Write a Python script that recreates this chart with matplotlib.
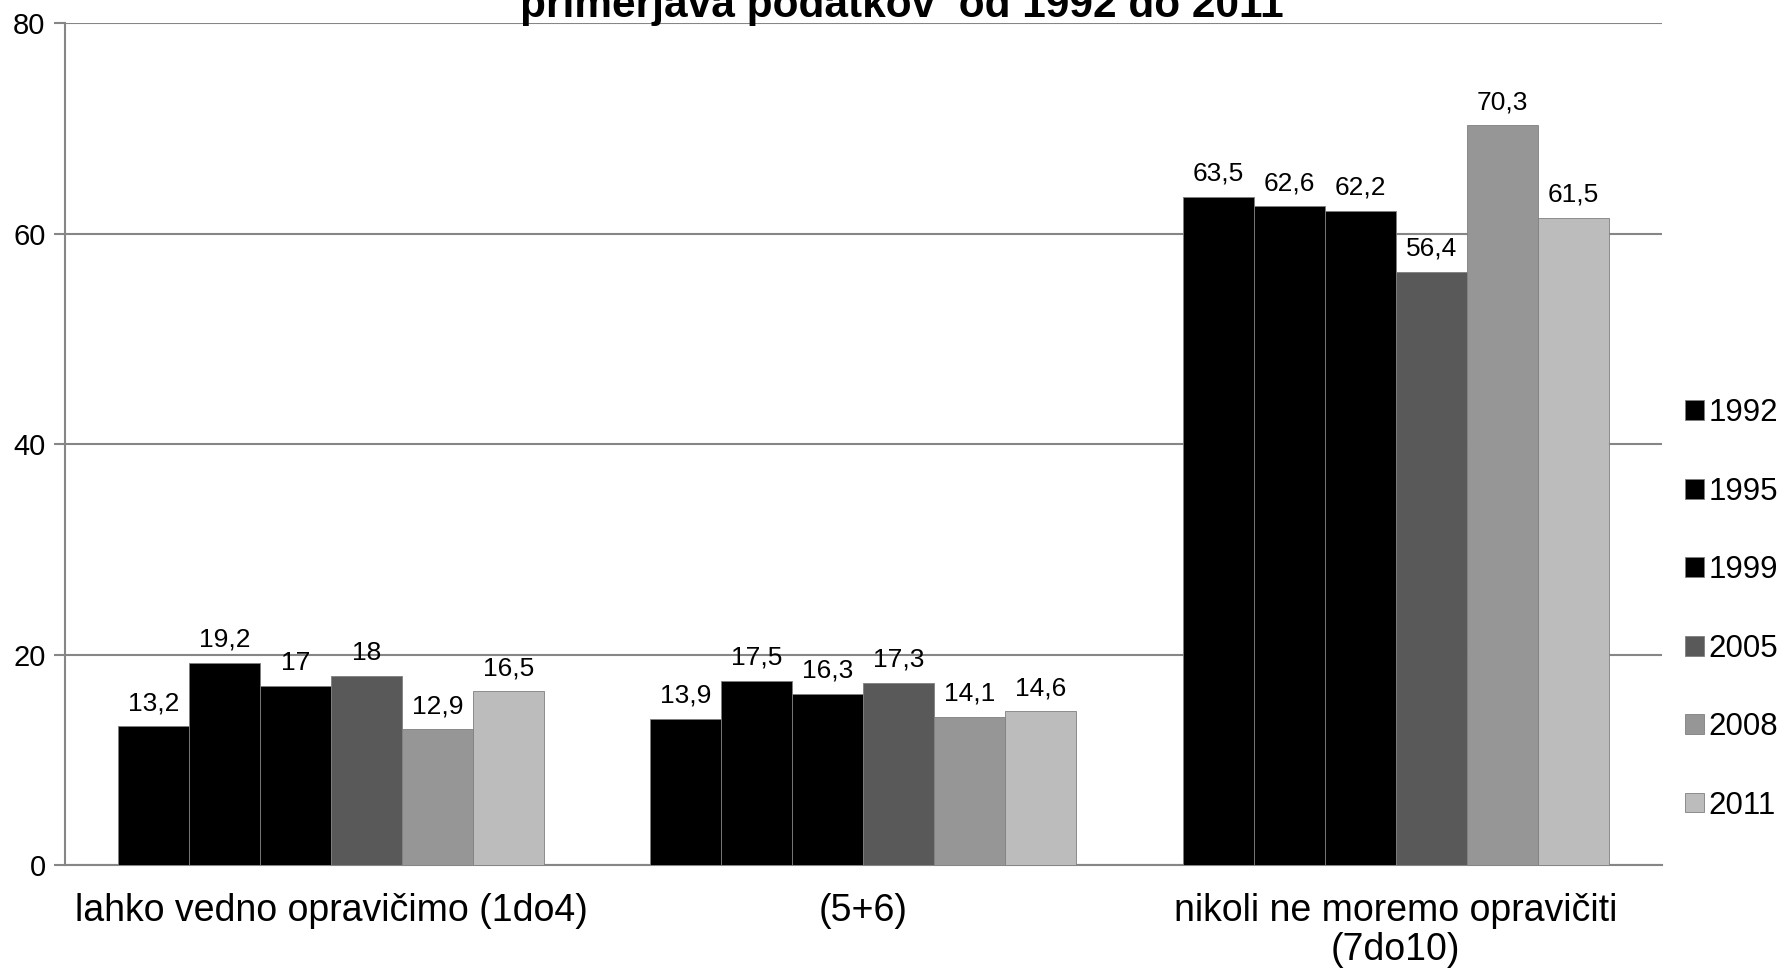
import matplotlib
matplotlib.use("Agg")
import matplotlib.pyplot as plt
import numpy as np

categories = ["lahko vedno opravičimo (1do4)", "(5+6)", "nikoli ne moremo opravičiti\n(7do10)"]
years = ["1992", "1995", "1999", "2005", "2008", "2011"]
values = {
    "1992": [13.2, 13.9, 63.5],
    "1995": [19.2, 17.5, 62.6],
    "1999": [17.0, 16.3, 62.2],
    "2005": [18.0, 17.3, 56.4],
    "2008": [12.9, 14.1, 70.3],
    "2011": [16.5, 14.6, 61.5],
}
colors = ["#000000", "#000000", "#000000", "#595959", "#969696", "#bcbcbc"]
title = "primerjava podatkov  od 1992 do 2011"

plt.rcParams['font.family'] = ['Liberation Sans', 'DejaVu Sans']

fig = plt.figure(figsize=(17.85, 9.72), dpi=100)
ax = fig.add_axes([0.0364, 0.110, 0.8946, 0.866])

x = np.arange(len(categories))
n = len(years)
w = 0.8 / n
for i, (yr, c) in enumerate(zip(years, colors)):
    pos = x - 0.4 + w * (i + 0.5)
    bars = ax.bar(pos, values[yr], width=w, color=c, edgecolor="#7f7f7f",
                  linewidth=0.6, label=yr, zorder=3)
    labels = [("%g" % v).replace(".", ",") for v in values[yr]]
    ax.bar_label(bars, labels=labels, padding=8, fontsize=19)

ax.set_xlim(-0.5, 2.5)
ax.set_ylim(0, 80)
ax.set_yticks([0, 20, 40, 60, 80])
ax.tick_params(axis='y', labelsize=21, length=8, color="#868686", width=1.5, pad=6)
ax.set_xticks(x)
ax.set_xticklabels(categories, fontsize=27, linespacing=1.1)
ax.tick_params(axis='x', length=0, pad=20)
ax.yaxis.grid(True, color="#868686", linewidth=1.5, zorder=0)
ax.set_axisbelow(True)
for s in ["top", "right"]:
    ax.spines[s].set_visible(False)
for s in ["left", "bottom"]:
    ax.spines[s].set_color("#868686")
    ax.spines[s].set_linewidth(1.5)

fig.text(0.505, 0.983, title, fontsize=30.5, fontweight="bold", ha="center", va="baseline")

fig.legend(loc="center left", bbox_to_anchor=(0.944, 0.373), frameon=False,
           fontsize=22.5, handlelength=0.6, handleheight=0.6, handletextpad=0.15,
           labelspacing=1.55, borderpad=0, borderaxespad=0)

fig.savefig("out.png", dpi=100)
